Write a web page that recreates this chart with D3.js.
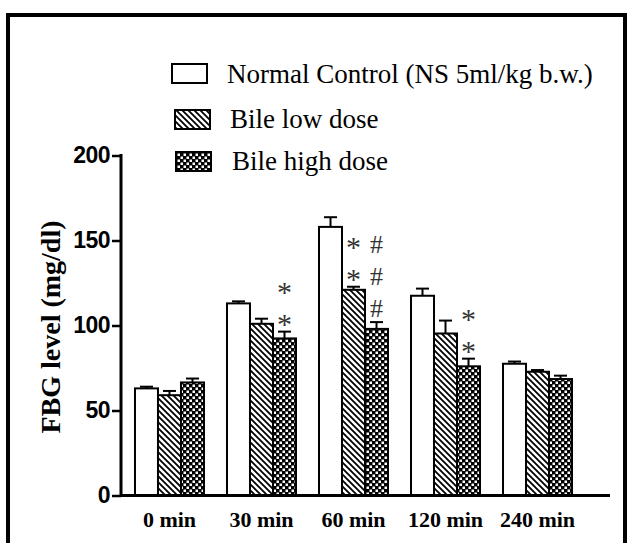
<!DOCTYPE html>
<html>
<head>
<meta charset="utf-8">
<script src="https://cdn.jsdelivr.net/npm/d3@7"></script>
<style>
  body { margin: 0; background: #fff; }
  svg { display: block; }
</style>
</head>
<body>
<div id="chart"></div>
<script>
// data
var time_points = ["0 min", "30 min", "60 min", "120 min", "240 min"];
var series_names = ["Normal Control (NS 5ml/kg b.w.)", "Bile low dose", "Bile high dose"];
var control_mean = [63, 113, 158, 117.5, 77.5];
var control_err = [1, 1.2, 5.7, 4.2, 1.3];
var low_mean = [59, 101, 121, 95.3, 72.8];
var low_err = [2.5, 3, 1.8, 7.6, 1];
var high_mean = [66.5, 92.4, 98, 76, 68.5];
var high_err = [2.3, 4, 4, 4.5, 2];
var y_ticks = [0, 50, 100, 150, 200];

// significance marks: time point, series index, symbols stacked upward
var sig_marks = [
  {time: "30 min", series: 2, symbols: ["*", "*"]},
  {time: "60 min", series: 1, symbols: ["*", "*"]},
  {time: "60 min", series: 2, symbols: ["#", "#", "#"]},
  {time: "120 min", series: 2, symbols: ["*", "*"]}
];

var means = [control_mean, low_mean, high_mean];
var errs = [control_err, low_err, high_err];
var fills = ["#fff", "url(#hatch)", "url(#checker)"];

var width = 630, height = 543;
var serif = "'Liberation Serif', 'Times New Roman', serif";
var sans = "'Liberation Sans', Arial, sans-serif";

var svg = d3.select("#chart").append("svg")
  .attr("width", width)
  .attr("height", height);

// fill patterns
var defs = svg.append("defs");
var hatch = defs.append("pattern")
  .attr("id", "hatch")
  .attr("patternUnits", "userSpaceOnUse")
  .attr("width", 6).attr("height", 6);
hatch.append("rect").attr("width", 6).attr("height", 6).attr("fill", "#fff");
hatch.append("path")
  .attr("d", "M-1,-1 L7,7 M-4,2 L2,8 M4,-2 L8,2")
  .attr("stroke", "#000").attr("stroke-width", 1.8);

var checker = defs.append("pattern")
  .attr("id", "checker")
  .attr("patternUnits", "userSpaceOnUse")
  .attr("width", 6).attr("height", 6);
checker.append("rect").attr("width", 6).attr("height", 6).attr("fill", "#000");
checker.append("rect").attr("x", 0.5).attr("y", 0.5).attr("width", 2.5).attr("height", 2.5).attr("fill", "#fff");
checker.append("rect").attr("x", 3.5).attr("y", 3.5).attr("width", 2.5).attr("height", 2.5).attr("fill", "#fff");

// outer frame
svg.append("rect")
  .attr("x", 8).attr("y", 15)
  .attr("width", 617).attr("height", 600)
  .attr("fill", "none")
  .attr("stroke", "#000")
  .attr("stroke-width", 4);

var x = d3.scaleBand()
  .domain(time_points)
  .range([121, 586])
  .paddingInner(0.25)
  .paddingOuter(0.152);

var xs = d3.scaleBand()
  .domain([0, 1, 2])
  .range([0, x.bandwidth()]);

var y = d3.scaleLinear()
  .domain([0, 200])
  .range([495.5, 155.5]);

// bars + error bars
series_names.forEach(function(name, s){
  var g = svg.append("g");
  var rows = time_points.map(function(t, i){
    return {time: t, mean: means[s][i], err: errs[s][i]};
  });

  g.selectAll("rect")
    .data(rows)
    .enter()
    .append("rect")
    .attr("x", function(d){ return x(d.time) + xs(s); })
    .attr("y", function(d){ return y(d.mean); })
    .attr("width", xs.bandwidth())
    .attr("height", function(d){ return y(0) - y(d.mean); })
    .attr("fill", fills[s])
    .attr("stroke", "#000")
    .attr("stroke-width", 2);

  var eb = g.selectAll(".err")
    .data(rows)
    .enter()
    .append("g")
    .attr("class", "err");
  eb.append("line")
    .attr("x1", function(d){ return x(d.time) + xs(s) + xs.bandwidth() / 2; })
    .attr("x2", function(d){ return x(d.time) + xs(s) + xs.bandwidth() / 2; })
    .attr("y1", function(d){ return y(d.mean); })
    .attr("y2", function(d){ return y(d.mean + d.err); })
    .attr("stroke", "#000").attr("stroke-width", 2);
  eb.append("line")
    .attr("x1", function(d){ return x(d.time) + xs(s) + xs.bandwidth() / 2 - 6.5; })
    .attr("x2", function(d){ return x(d.time) + xs(s) + xs.bandwidth() / 2 + 6.5; })
    .attr("y1", function(d){ return y(d.mean + d.err); })
    .attr("y2", function(d){ return y(d.mean + d.err); })
    .attr("stroke", "#000").attr("stroke-width", 2);
});

// y axis
var yAxis = svg.append("g")
  .attr("transform", "translate(121,0)")
  .call(d3.axisLeft(y).tickValues(y_ticks).tickSize(9).tickPadding(2).tickFormat(d3.format("d")));
yAxis.select(".domain").attr("stroke-width", 3).attr("d", "M0,154V497");
yAxis.selectAll(".tick line").attr("stroke-width", 2.5);
yAxis.selectAll(".tick text")
  .attr("font-family", sans)
  .attr("font-weight", "bold")
  .attr("font-size", 23)
  .attr("letter-spacing", -0.5)
  .attr("fill", "#000");

// x axis line, no ticks
svg.append("line")
  .attr("x1", 120).attr("x2", 610)
  .attr("y1", y(0)).attr("y2", y(0))
  .attr("stroke", "#000").attr("stroke-width", 3);

svg.selectAll(".xlab")
  .data(time_points)
  .enter()
  .append("text")
  .attr("class", "xlab")
  .attr("x", function(d){ return x(d) + x.bandwidth() / 2; })
  .attr("y", 527)
  .attr("text-anchor", "middle")
  .attr("font-family", serif)
  .attr("font-weight", "bold")
  .attr("font-size", 22)
  .text(function(d){ return d; });

// y title
svg.append("text")
  .attr("transform", "translate(60,327) rotate(-90)")
  .attr("text-anchor", "middle")
  .attr("font-family", serif)
  .attr("font-weight", "bold")
  .attr("font-size", 28)
  .text("FBG level (mg/dl)");

// significance symbols
sig_marks.forEach(function(m){
  var i = time_points.indexOf(m.time);
  var cx = x(m.time) + xs(m.series) + xs.bandwidth() / 2;
  var top = y(means[m.series][i] + errs[m.series][i]);
  m.symbols.forEach(function(sym, k){
    var cy = top - 14 - k * 32;
    svg.append("text")
      .attr("x", cx)
      .attr("y", sym === "*" ? cy + 16 : cy + 9)
      .attr("text-anchor", "middle")
      .attr("font-family", serif)
      .attr("font-size", sym === "*" ? 30 : 26)
      .attr("fill", "#333")
      .text(sym);
  });
});

// legend
var legend_pos = [{x: 172, y: 64, tx: 227, ty: 83}, {x: 175, y: 110, tx: 230, ty: 128}, {x: 176, y: 152, tx: 232, ty: 170}];
var lg = svg.selectAll(".legend")
  .data(series_names)
  .enter()
  .append("g")
  .attr("class", "legend");
lg.append("rect")
  .attr("x", function(d, i){ return legend_pos[i].x; })
  .attr("y", function(d, i){ return legend_pos[i].y; })
  .attr("width", 35).attr("height", 19)
  .attr("fill", function(d, i){ return fills[i]; })
  .attr("stroke", "#000").attr("stroke-width", 2);
lg.append("text")
  .attr("x", function(d, i){ return legend_pos[i].tx; })
  .attr("y", function(d, i){ return legend_pos[i].ty; })
  .attr("font-family", serif)
  .attr("font-size", 27)
  .text(function(d){ return d; });
</script>
</body>
</html>
